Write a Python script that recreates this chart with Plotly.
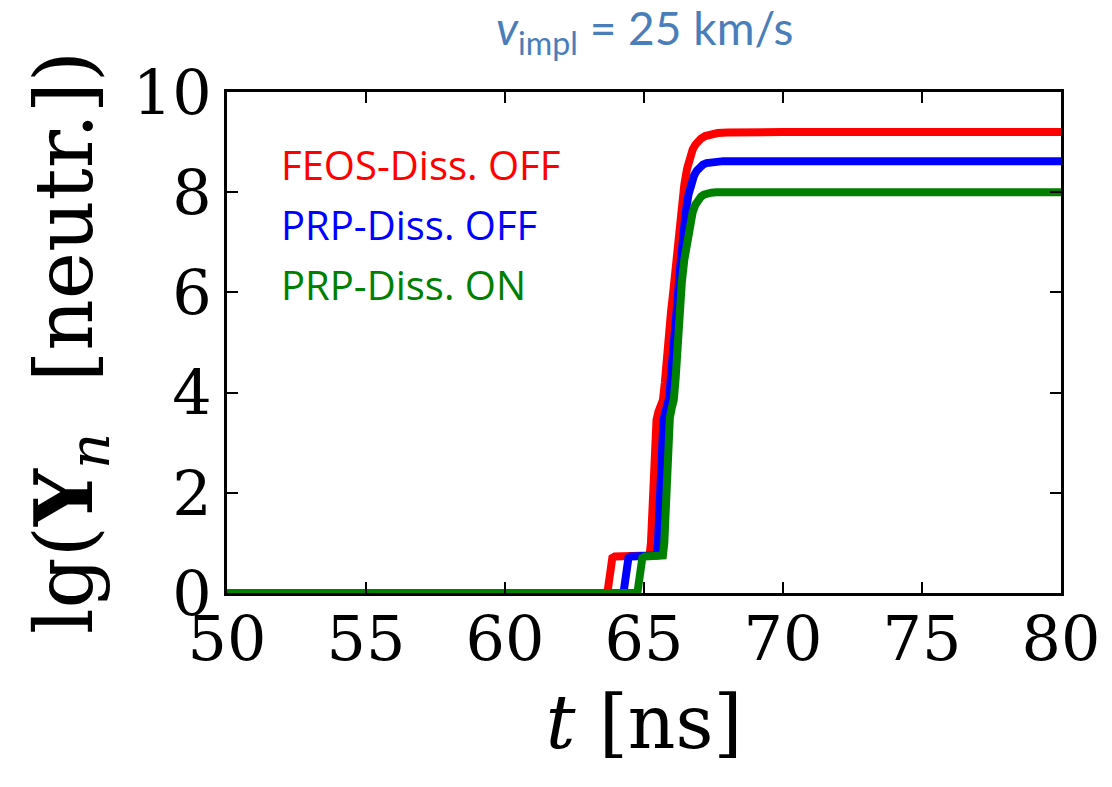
import plotly.graph_objects as go

# Data
t_feos_off = [50, 63.68, 63.72, 63.76, 63.80, 63.86, 63.95, 65.20, 65.25, 65.29, 65.33, 65.38, 65.45, 65.52, 65.60, 65.68, 65.75, 65.82, 65.90, 65.97, 66.05, 66.15, 66.25, 66.35, 66.45, 66.55, 66.65, 66.75, 66.85, 66.95, 67.05, 67.20, 67.40, 67.65, 68.0, 68.5, 70, 80]
y_feos_off = [0, 0, 0.15, 0.40, 0.60, 0.70, 0.73, 0.75, 1.0, 1.6, 2.4, 3.0, 3.45, 3.62, 3.72, 3.85, 4.2, 4.8, 5.3, 5.6, 6.0, 6.6, 7.2, 7.75, 8.15, 8.47, 8.7, 8.85, 8.95, 9.02, 9.07, 9.12, 9.16, 9.18, 9.19, 9.2, 9.2, 9.2]

t_prp_off = [50, 64.26, 64.30, 64.34, 64.38, 64.44, 64.53, 65.45, 65.50, 65.54, 65.58, 65.63, 65.70, 65.77, 65.84, 65.91, 65.98, 66.05, 66.12, 66.20, 66.30, 66.40, 66.50, 66.60, 66.70, 66.80, 66.90, 67.00, 67.12, 67.25, 67.40, 67.60, 67.85, 68.2, 68.8, 70, 80]
y_prp_off = [0, 0, 0.15, 0.40, 0.60, 0.70, 0.73, 0.75, 1.0, 1.6, 2.4, 3.0, 3.45, 3.62, 3.72, 3.9, 4.4, 5.0, 5.4, 5.8, 6.5, 7.15, 7.6, 7.95, 8.18, 8.33, 8.43, 8.50, 8.55, 8.58, 8.60, 8.61, 8.62, 8.62, 8.62, 8.62, 8.62]

t_prp_on = [50, 64.76, 64.80, 64.84, 64.88, 64.94, 65.03, 65.68, 65.73, 65.77, 65.81, 65.86, 65.93, 66.00, 66.07, 66.14, 66.21, 66.28, 66.36, 66.45, 66.55, 66.65, 66.75, 66.85, 66.95, 67.05, 67.15, 67.28, 67.42, 67.60, 67.85, 68.2, 68.8, 70, 80]
y_prp_on = [0, 0, 0.15, 0.40, 0.60, 0.70, 0.73, 0.75, 1.0, 1.6, 2.4, 3.0, 3.5, 3.7, 3.85, 4.3, 5.0, 5.6, 6.2, 6.65, 7.05, 7.38, 7.6, 7.75, 7.85, 7.91, 7.95, 7.98, 7.99, 8.0, 8.0, 8.0, 8.0, 8.0, 8.0]

series = [
    ("FEOS-Diss. OFF", t_feos_off, y_feos_off, "#ff0000"),
    ("PRP-Diss. OFF", t_prp_off, y_prp_off, "#0000ff"),
    ("PRP-Diss. ON", t_prp_on, y_prp_on, "#008000"),
]

x_ticks = [50, 55, 60, 65, 70, 75, 80]
y_ticks = [0, 2, 4, 6, 8, 10]

fig = go.Figure()
for name, t, y, c in series:
    fig.add_trace(go.Scatter(x=t, y=y, mode="lines", name=name,
                             line=dict(color=c, width=8, shape="linear"),
                             cliponaxis=True, showlegend=False))

# Legend as coloured text
for i, (name, t, y, c) in enumerate(series):
    fig.add_annotation(x=0.062, y=0.855 - i * 0.12, xref="paper", yref="paper",
                       text=name, showarrow=False, xanchor="left", yanchor="middle",
                       font=dict(family="Open Sans, Lato, sans-serif", size=40, color=c))

fig.add_annotation(x=0.5, y=1.0, xref="paper", yref="paper", yshift=61,
                   text="<i>v</i><sub>impl</sub> = 25 km/s", showarrow=False,
                   xanchor="center", yanchor="middle",
                   font=dict(family="Lato, sans-serif", size=46, color="#4a7ebb"))

axis_common = dict(showline=True, linecolor="black", linewidth=3, mirror="ticks",
                   ticks="inside", ticklen=11, tickwidth=1.5, tickcolor="black",
                   showgrid=False, zeroline=False,
                   tickfont=dict(family="DejaVu Serif, serif", size=62, color="black"))

fig.update_xaxes(range=[50, 80], tickvals=x_ticks, ticktext=[str(v) for v in x_ticks],
                 ticklabelstandoff=-10,
                 title=dict(text="<i>t</i> [ns]", font=dict(family="DejaVu Serif, serif", size=74, color="black"),
                            standoff=22),
                 **axis_common)
fig.update_yaxes(range=[0, 10], tickvals=y_ticks, ticktext=[str(v) for v in y_ticks],
                 title=dict(text="lg(<b>Y</b><sub><i>n</i></sub>  [neutr.])",
                            font=dict(family="DejaVu Serif, serif", size=80, color="black"),
                            standoff=14),
                 **axis_common)

fig.update_layout(width=1112, height=787, plot_bgcolor="white", paper_bgcolor="white",
                  margin=dict(l=227, r=45, t=92, b=194), showlegend=False)

fig.write_html("out.html")
